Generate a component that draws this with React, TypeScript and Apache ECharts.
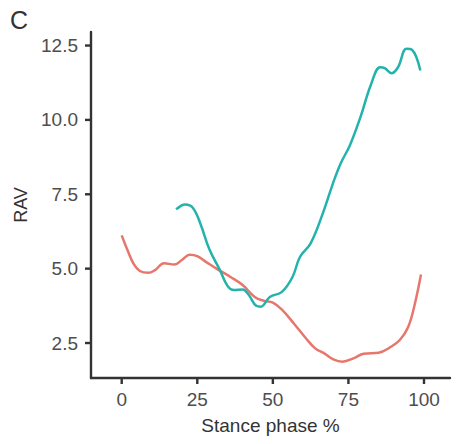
import React, { useEffect, useRef } from "react";
import * as echarts from "echarts";

const redX = [0, 2, 4, 6, 8.8, 11, 14, 17.5, 20, 22.5, 25, 28, 32, 36, 40, 44, 47, 50, 53, 57, 61, 64, 67, 70, 73, 77, 80, 85, 88.7, 92, 94.8, 97, 99];
const redY = [6.12, 5.6, 5.15, 4.92, 4.86, 4.95, 5.18, 5.14, 5.3, 5.47, 5.42, 5.22, 4.96, 4.72, 4.45, 4.05, 3.92, 3.86, 3.62, 3.15, 2.65, 2.32, 2.15, 1.95, 1.87, 2.0, 2.14, 2.17, 2.35, 2.6, 3.05, 3.83, 4.8];

const tealX = [18, 21, 23.5, 26, 29, 32.5, 35, 37, 40, 42, 44.5, 46, 49, 53, 56.5, 59, 62.5, 66.5, 70, 72.5, 75.5, 79, 82.5, 85.5, 87, 89.3, 91.4, 94.2, 96, 98.8];
const tealY = [6.99, 7.16, 7.05, 6.52, 5.65, 4.95, 4.42, 4.28, 4.3, 4.12, 3.75, 3.72, 4.05, 4.22, 4.72, 5.4, 5.85, 6.85, 7.9, 8.55, 9.15, 10.1, 11.2, 11.77, 11.74, 11.57, 11.77, 12.39, 12.36, 11.66];

const xTicks = [0, 25, 50, 75, 100];
const yTicks = [2.5, 5, 7.5, 10, 12.5];

const X_MIN = -10.16;
const X_MAX = 108.6;
const Y_MIN = 1.324;
const Y_MAX = 12.955;

const FONT = "Liberation Sans, Arial, sans-serif";
const AXIS = "#333333";

export default function App() {
  const ref = useRef<HTMLDivElement>(null);
  useEffect(() => {
    if (!ref.current) return;
    const chart = echarts.init(ref.current, null, { renderer: "svg" });
    const pair = (xs: number[], ys: number[]) => xs.map((x, i) => [x, ys[i]]);
    chart.setOption({
      animation: false,
      backgroundColor: "#ffffff",
      textStyle: { fontFamily: FONT },
      grid: { left: 91, right: 7, top: 32, bottom: 66, containLabel: false, outerBoundsMode: "none" },
      graphic: [
        { type: "text", left: 10, top: 7, style: { text: "C", fontSize: 25, fill: "#333", fontFamily: FONT } },
      ],
      xAxis: {
        type: "value",
        min: X_MIN,
        max: X_MAX,
        splitLine: { show: false },
        axisLine: { show: true, onZero: false, lineStyle: { color: AXIS, width: 2.4 } },
        axisTick: { show: false },
        axisLabel: { customValues: xTicks, color: "#4d4d4d", fontSize: 19, margin: 12, fontFamily: FONT },
        name: "Stance phase %",
        nameLocation: "middle",
        nameGap: 38,
        nameTextStyle: { color: "#333", fontSize: 19, fontFamily: FONT },
      },
      yAxis: {
        type: "value",
        min: Y_MIN,
        max: Y_MAX,
        splitLine: { show: false },
        axisLine: { show: true, onZero: false, lineStyle: { color: AXIS, width: 2.4 } },
        axisTick: { show: false },
        axisLabel: {
          customValues: yTicks,
          color: "#4d4d4d",
          fontSize: 19,
          margin: 13,
          fontFamily: FONT,
          formatter: (v: number) => v.toFixed(1),
        },
        name: "RAV",
        nameLocation: "middle",
        nameGap: 61,
        nameTextStyle: { color: "#333", fontSize: 18, fontFamily: FONT },
      },
      series: [
        {
          type: "line",
          data: pair(redX, redY),
          smooth: 0.4,
          showSymbol: false,
          lineStyle: { color: "#E6776C", width: 2.5 },
          itemStyle: { color: "#E6776C" },
        },
        {
          type: "line",
          data: pair(tealX, tealY),
          smooth: 0.4,
          showSymbol: false,
          lineStyle: { color: "#24B3AC", width: 2.5 },
          itemStyle: { color: "#24B3AC" },
        },
        {
          type: "custom",
          clip: false,
          silent: true,
          z: 10,
          data: xTicks.map((v) => [v, Y_MIN]),
          renderItem: (params: any, api: any) => {
            const p = api.coord([api.value(0), api.value(1)]);
            return {
              type: "rect",
              shape: { x: p[0] - 1.2, y: p[1], width: 2.4, height: 6 },
              style: { fill: AXIS },
            };
          },
        },
        {
          type: "custom",
          clip: false,
          silent: true,
          z: 10,
          data: yTicks.map((v) => [X_MIN, v]),
          renderItem: (params: any, api: any) => {
            const p = api.coord([api.value(0), api.value(1)]);
            return {
              type: "rect",
              shape: { x: p[0] - 6, y: p[1] - 1.2, width: 6, height: 2.4 },
              style: { fill: AXIS },
            };
          },
        },
      ],
    });
    return () => chart.dispose();
  }, []);
  return (
    <div
      ref={ref}
      style={{ position: "absolute", left: 0, top: 0, width: 457, height: 444, background: "#fff" }}
    />
  );
}
